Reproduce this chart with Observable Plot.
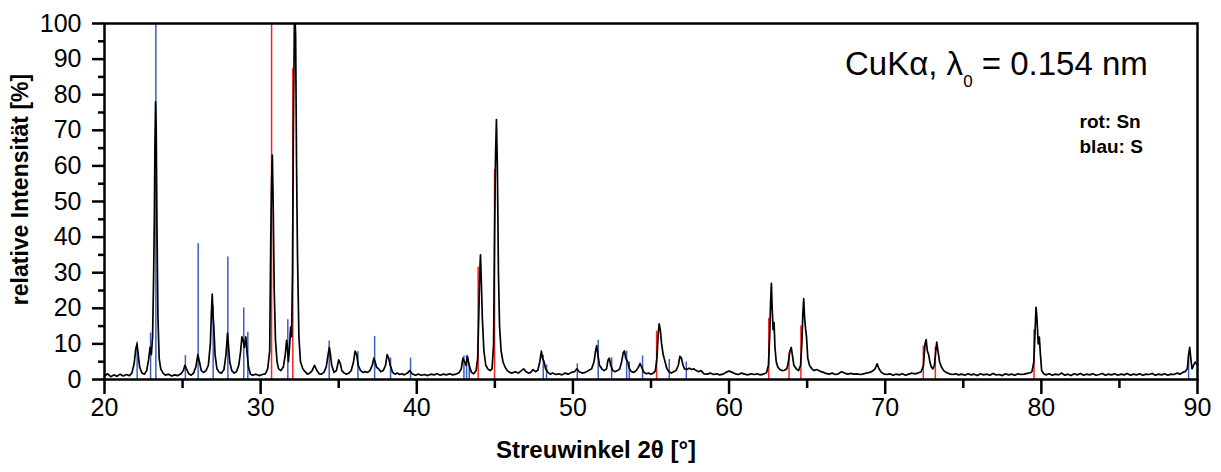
<!DOCTYPE html>
<html><head><meta charset="utf-8">
<script src="https://cdn.jsdelivr.net/npm/d3@7"></script>
<script src="https://cdn.jsdelivr.net/npm/@observablehq/plot@0.6"></script>
<style>
html,body{margin:0;padding:0;background:#fff;}
#chart svg{font-family:"Liberation Sans", Arial, sans-serif;}
</style></head><body><div id="chart"></div>
<script>
// Tick values
const xTicks = [20, 30, 40, 50, 60, 70, 80, 90];
const xMinorTicks = [25, 35, 45, 55, 65, 75, 85];
const yTicks = [0, 10, 20, 30, 40, 50, 60, 70, 80, 90, 100];
const yMinorTicks = [5, 15, 25, 35, 45, 55, 65, 75, 85, 95];

// Reference lines: Sn (rot)
const snAngle =     [30.70, 32.06, 43.93, 44.98, 55.36, 62.54, 63.84, 64.60, 72.44, 73.21, 79.53];
const snIntensity = [100,   87.4,  31.5,  59,    13.6,  17.2,  7.5,   15,    9.4,   9.1,   14];

// Reference lines: S (blau)
const sAngle =     [22.09, 22.95, 23.29, 25.18, 26.00, 26.96, 27.90, 28.92, 29.18, 31.74, 34.39,
                    36.23, 37.30, 38.32, 39.60, 43.02, 43.19, 43.36, 48.10, 48.31, 50.28, 51.62,
                    52.48, 53.44, 53.61, 54.46, 56.17, 57.26, 89.43];
const sIntensity = [10.5,  13.1,  100,   6.7,   38.1,  20.8,  34.4,  20.1,  13.3,  16.8,  10.8,
                    7.9,   12.1,  6.0,   6.0,   6.6,   6.8,   4.4,   6.8,   4.1,   4.4,   11.0,
                    6.1,   7.9,   4.9,   6.6,   5.6,   4.9,   6.3];

// Measured scan [2θ, intensity %]
const scan = [
[20.0,1.0],[20.2,1.6],[20.4,0.8],[20.6,1.3],[20.8,0.9],[21.0,1.5],[21.2,1.0],[21.4,1.4],[21.6,1.1],[21.75,1.8],
[21.9,4.5],[22.0,8.5],[22.08,10],[22.15,7.5],[22.25,3.5],[22.4,1.8],[22.55,1.5],[22.7,2.5],[22.82,5.5],[22.92,9],
[23.0,7],[23.08,12],[23.14,27],[23.19,44],[23.23,66],[23.27,78],[23.31,71],[23.36,43],[23.42,18],[23.5,6],
[23.6,3],[23.75,1.8],[23.9,1.2],[24.1,1.5],[24.3,1.0],[24.5,1.3],[24.7,1.1],[24.9,1.6],[25.05,2.5],[25.15,4],
[25.25,3],[25.4,1.6],[25.55,1.2],[25.7,1.8],[25.85,3.5],[25.98,7],[26.08,5],[26.2,2.5],[26.35,2.0],[26.5,2.5],
[26.65,4],[26.78,10],[26.85,19],[26.9,24],[26.95,18],[27.0,15],[27.08,7],[27.2,3],[27.35,2],[27.5,1.8],
[27.65,2.8],[27.78,7],[27.88,13],[27.95,9],[28.02,5],[28.15,2.5],[28.3,1.8],[28.45,2.2],[28.6,4],[28.72,8],
[28.8,12],[28.88,11],[28.96,9],[29.05,12],[29.12,8],[29.22,3.5],[29.35,1.5],[29.5,1.2],[29.7,1.5],[29.9,1.1],
[30.1,1.4],[30.3,1.6],[30.45,3],[30.58,8],[30.65,40],[30.7,56],[30.75,63],[30.8,50],[30.87,25],[30.95,11],
[31.05,5],[31.15,3],[31.3,2.5],[31.45,3.5],[31.58,7],[31.66,11],[31.72,9],[31.78,5],[31.85,9],[31.92,14.7],
[31.98,12],[32.04,30],[32.1,72],[32.17,104],[32.24,97],[32.3,60],[32.36,35],[32.45,12],[32.55,5],[32.7,3],
[32.85,2.2],[33.0,1.5],[33.15,1.8],[33.3,2.5],[33.45,4],[33.6,2.5],[33.75,1.6],[33.9,1.5],[34.05,2],[34.2,3.5],
[34.32,7],[34.4,9],[34.47,7],[34.55,4],[34.7,2],[34.85,2.5],[35.0,5.5],[35.1,4.5],[35.2,2.5],[35.35,1.8],
[35.5,1.5],[35.65,1.8],[35.8,2.5],[35.95,5],[36.05,8],[36.15,7],[36.25,4],[36.4,2.5],[36.55,2],[36.7,2.2],
[36.85,2],[37.0,2.5],[37.15,4],[37.25,6],[37.33,5],[37.42,3.5],[37.55,3],[37.7,2.2],[37.85,2.5],[38.0,4],
[38.1,7],[38.2,6],[38.3,4],[38.45,2],[38.6,1.5],[38.75,1.8],[38.9,1.4],[39.05,1.6],[39.2,1.3],[39.4,1.8],
[39.55,2.5],[39.7,1.6],[39.9,1.2],[40.1,1.5],[40.3,1.2],[40.5,1.4],[40.7,1.1],[40.9,1.5],[41.1,1.3],[41.3,1.6],
[41.5,1.2],[41.7,1.5],[41.9,1.3],[42.1,1.6],[42.3,1.3],[42.5,1.5],[42.7,1.9],[42.85,3],[42.95,6],[43.05,5],
[43.15,4],[43.25,6.5],[43.35,4],[43.5,2],[43.65,1.6],[43.8,2.5],[43.9,6],[43.97,18],[44.03,30],[44.08,35],
[44.13,28],[44.2,17],[44.3,8],[44.42,4],[44.55,3],[44.7,2.5],[44.82,3],[44.92,10],[44.98,40],[45.04,62],
[45.1,73],[45.16,60],[45.23,30],[45.3,15],[45.4,8],[45.52,5],[45.65,3.5],[45.8,2.5],[45.95,2],[46.1,1.8],
[46.3,2.2],[46.5,1.8],[46.7,2.5],[46.85,3],[47.0,2.2],[47.15,1.8],[47.3,2],[47.45,2.8],[47.6,2.2],[47.75,2.6],
[47.88,5],[47.98,8],[48.05,6],[48.15,5],[48.25,3],[48.4,2],[48.55,1.5],[48.7,1.8],[48.9,1.4],[49.1,1.6],
[49.3,1.3],[49.5,1.8],[49.7,1.5],[49.9,2],[50.1,2.2],[50.25,3],[50.4,2.2],[50.6,1.8],[50.8,2],[51.0,2.5],
[51.2,3],[51.35,5],[51.45,8],[51.52,9.5],[51.6,7],[51.7,4],[51.85,3],[52.0,2.5],[52.15,3],[52.25,5.5],
[52.33,6],[52.42,4],[52.55,2.5],[52.7,2.2],[52.85,2.5],[53.0,3],[53.12,5],[53.22,7.5],[53.3,8],[53.38,6],
[53.5,5],[53.62,3],[53.75,2.2],[53.9,2],[54.05,2.5],[54.2,3.5],[54.3,4.5],[54.4,3.5],[54.55,2],[54.7,1.6],
[54.85,1.8],[55.0,1.5],[55.15,1.8],[55.28,2.5],[55.38,6],[55.45,12],[55.52,15.6],[55.6,13.8],[55.68,10],[55.78,7],
[55.9,5],[56.02,3],[56.15,2.2],[56.3,1.8],[56.45,2.2],[56.6,2.5],[56.75,4],[56.85,6.5],[56.95,6],[57.05,4],
[57.15,3],[57.3,2.8],[57.45,3.2],[57.6,2.8],[57.75,3],[57.9,2.5],[58.05,2.2],[58.2,2.5],[58.4,1.6],[58.6,1.5],
[58.8,1.8],[59.0,1.4],[59.2,1.6],[59.4,1.3],[59.6,1.5],[59.8,2],[60.0,2.4],[60.2,2],[60.4,1.6],[60.6,1.4],
[60.8,1.8],[61.0,1.5],[61.2,1.3],[61.4,1.6],[61.6,1.4],[61.8,1.6],[62.0,1.3],[62.2,1.5],[62.4,1.9],[62.52,4],
[62.6,12],[62.66,22],[62.71,27],[62.76,20],[62.82,14],[62.88,16],[62.94,9],[63.02,5],[63.12,3.5],[63.25,2.8],
[63.4,2.5],[63.55,2.6],[63.7,3],[63.8,5],[63.9,8],[63.98,9],[64.05,7],[64.15,4],[64.3,3],[64.45,2.5],
[64.58,4],[64.66,10],[64.72,18],[64.78,22.7],[64.84,17],[64.9,14.2],[64.96,12],[65.04,6],[65.15,4],[65.3,3],
[65.45,2.5],[65.6,2.8],[65.75,2.5],[65.9,2.2],[66.05,2.0],[66.2,1.7],[66.4,1.5],[66.6,1.8],[66.8,1.4],[67.0,1.6],
[67.2,2.2],[67.4,1.8],[67.6,1.5],[67.8,1.7],[68.0,1.5],[68.2,1.6],[68.4,1.4],[68.6,1.6],[68.8,1.8],[69.0,2],
[69.2,2.4],[69.35,3],[69.48,4.4],[69.6,3],[69.75,2],[69.9,1.6],[70.1,1.4],[70.3,1.6],[70.5,1.2],[70.7,1.5],
[70.9,1.3],[71.1,1.6],[71.3,1.2],[71.5,1.5],[71.7,1.8],[71.9,1.6],[72.1,1.8],[72.3,2.2],[72.45,4],[72.55,10],
[72.62,11.2],[72.7,8],[72.78,7],[72.86,5],[72.95,3.5],[73.05,3],[73.15,4],[73.24,8],[73.3,10.5],[73.38,8],
[73.48,5],[73.6,3.5],[73.75,2.5],[73.9,2],[74.1,1.6],[74.3,1.4],[74.5,1.6],[74.7,1.3],[74.9,1.5],[75.1,1.2],
[75.3,1.6],[75.5,1.3],[75.7,1.5],[75.9,1.1],[76.1,1.6],[76.3,1.3],[76.5,1.5],[76.7,1.2],[76.9,1.7],[77.1,1.3],
[77.3,1.4],[77.5,1.1],[77.7,1.6],[77.9,1.3],[78.1,1.5],[78.3,1.2],[78.5,1.6],[78.7,1.4],[78.9,1.5],[79.1,1.7],
[79.3,1.9],[79.4,2.2],[79.52,5],[79.6,14],[79.66,20.3],[79.72,17],[79.8,10],[79.87,11.9],[79.94,7],[80.02,2.5],
[80.15,1.6],[80.3,1.3],[80.5,1.6],[80.7,1.2],[80.9,1.5],[81.1,1.3],[81.3,1.8],[81.5,1.2],[81.7,1.5],[81.9,1.1],
[82.1,1.6],[82.3,1.3],[82.5,1.7],[82.7,1.2],[82.9,1.5],[83.1,1.3],[83.3,1.6],[83.5,1.2],[83.7,1.4],[83.9,1.7],
[84.1,1.2],[84.3,1.5],[84.5,1.3],[84.7,1.6],[84.9,1.2],[85.1,1.5],[85.3,1.3],[85.5,1.7],[85.7,1.2],[85.9,1.5],
[86.1,1.3],[86.3,1.6],[86.5,1.2],[86.7,1.5],[86.9,1.4],[87.1,1.7],[87.3,1.2],[87.5,1.5],[87.7,1.3],[87.9,1.6],
[88.1,1.2],[88.3,1.5],[88.5,1.4],[88.7,1.8],[88.9,1.5],[89.05,2],[89.2,2.2],[89.35,3],[89.43,7],[89.5,9],
[89.57,6],[89.65,3],[89.75,4],[89.85,4.9],[90.0,4]
];

const xLabel = "Streuwinkel 2θ [°]";
const yLabel = "relative Intensität [%]";
const legendSn = "rot: Sn";
const legendS = "blau: S";

const snIdx = d3.range(snAngle.length);
const sIdx = d3.range(sAngle.length);

const W = 1221, H = 472;
const mL = 104, mR = 24, mT = 23, mB = 93;

const chart = Plot.plot({
  width: W, height: H,
  marginLeft: mL, marginRight: mR, marginTop: mT, marginBottom: mB,
  style: {fontFamily: '"Liberation Sans", Arial, sans-serif', background: "#fff", color: "#000"},
  x: {domain: [20, 90]},
  y: {domain: [0, 100]},
  marks: [
    Plot.ruleX(snIdx, {x: i => snAngle[i], y1: 0, y2: i => snIntensity[i], stroke: "#ff2222", strokeWidth: 1.5, clip: true}),
    Plot.ruleX(sIdx, {x: i => sAngle[i], y1: 0, y2: i => sIntensity[i], stroke: "#3a5fc4", strokeWidth: 1.5, clip: true}),
    Plot.line(scan, {x: d => d[0], y: d => d[1], stroke: "#000", strokeWidth: 1.7, clip: true}),
    Plot.frame({stroke: "#000", strokeWidth: 2.5}),
    Plot.axisX(xTicks, {anchor: "bottom", tickSize: 15, strokeWidth: 2.5, fontSize: 25, tickPadding: 4, label: null}),
    Plot.axisX(xMinorTicks, {anchor: "bottom", tickSize: 9, strokeWidth: 2.5, tickFormat: () => "", label: null}),
    Plot.axisY(yTicks, {anchor: "left", tickSize: 12, strokeWidth: 2.5, fontSize: 25, tickPadding: 11, label: null}),
    Plot.axisY(yMinorTicks, {anchor: "left", tickSize: 6, strokeWidth: 2.5, tickFormat: () => "", label: null}),
    Plot.text([xLabel], {frameAnchor: "bottom", textAnchor: "middle", dx: -55, dy: 78, fontSize: 24, fontWeight: "bold", fill: "#000"}),
    Plot.text([yLabel], {frameAnchor: "left", textAnchor: "middle", rotate: -90, dx: -84, dy: -12, fontSize: 23, fontWeight: "bold", fill: "#000"}),
    Plot.text([legendSn], {frameAnchor: "top-right", textAnchor: "start", dx: -118, dy: 91, fontSize: 19, fontWeight: "bold", fill: "#000"}),
    Plot.text([legendS], {frameAnchor: "top-right", textAnchor: "start", dx: -118, dy: 116, fontSize: 19, fontWeight: "bold", fill: "#000"})
  ]
});

// Wavelength annotation with subscript
const svg = d3.select(chart);
const ann = svg.append("text")
  .attr("x", W - mR - 352)
  .attr("y", mT + 52)
  .attr("text-anchor", "start")
  .attr("font-size", 33)
  .attr("fill", "#000")
  .attr("font-family", '"Liberation Sans", Arial, sans-serif');
ann.append("tspan").text("CuKα, λ");
ann.append("tspan").attr("font-size", 17).attr("dy", 12).text("0");
ann.append("tspan").attr("dy", -12).text(" = 0.154 nm");

document.getElementById("chart").appendChild(chart);
</script>
</body></html>
